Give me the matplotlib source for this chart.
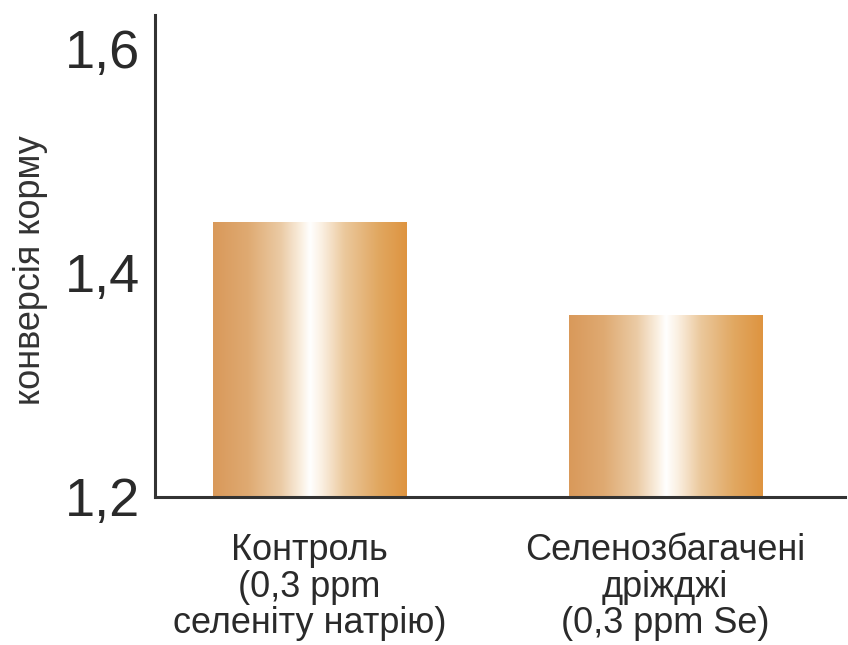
import numpy as np
import matplotlib
matplotlib.use("Agg")
import matplotlib.pyplot as plt
from matplotlib.colors import LinearSegmentedColormap

categories = ["Контроль\n(0,3 ppm\nселеніту натрію)",
              "Селенозбагачені\nдріжджі\n(0,3 ppm Se)"]
values = [1.445, 1.362]
yticks = [1.2, 1.4, 1.6]
ytick_labels = ["1,2", "1,4", "1,6"]
ylabel = "конверсія корму"

plt.rcParams['font.family'] = ['Liberation Sans', 'DejaVu Sans']

fig = plt.figure(figsize=(8.48, 6.45), dpi=100)
ax = fig.add_axes([0.1828, 0.2295, 0.8137, 0.7472])

x = np.arange(len(categories))
width = 0.543
base = 1.2
bars = ax.bar(x, [v - base for v in values], width=width, bottom=base,
              facecolor='none', edgecolor='none')

cmap = LinearSegmentedColormap.from_list(
    "bargrad",
    [(0.0, "#D9995A"), (0.18, "#DFAA72"), (0.35, "#EBCBA5"),
     (0.46, "#FBF1E4"), (0.50, "#FFFFFF"), (0.56, "#FBF0E2"),
     (0.68, "#EBC89C"), (0.85, "#E1A862"), (1.0, "#DE9440")])
grad = np.linspace(0, 1, 256).reshape(1, -1)
for rect in bars:
    x0 = rect.get_x()
    x1 = x0 + rect.get_width()
    y0 = rect.get_y()
    y1 = y0 + rect.get_height()
    im = ax.imshow(grad, cmap=cmap, extent=(x0, x1, y0, y1),
                   aspect='auto', interpolation='bicubic', zorder=2)
    im.set_clip_path(rect)

ax.set_xlim(-0.4346, 1.506)
ax.set_ylim(1.2, 1.630)
ax.set_yticks(yticks)
ax.set_yticklabels(ytick_labels, fontsize=39, color="#2a2a2a")
ax.set_xticks(x)
ax.set_xticklabels(categories, fontsize=26, color="#2a2a2a", linespacing=1.06)
ax.tick_params(axis='both', length=0)
ax.tick_params(axis='y', pad=11)
ax.tick_params(axis='x', pad=26)
ax.set_ylabel(ylabel, fontsize=26, color="#333333", labelpad=12)
ax.yaxis.set_label_coords(-0.155, 0.47)

for s in ['top', 'right']:
    ax.spines[s].set_visible(False)
for s in ['left', 'bottom']:
    ax.spines[s].set_linewidth(2.2)
    ax.spines[s].set_color("#333333")

fig.savefig("out.png", dpi=100)
